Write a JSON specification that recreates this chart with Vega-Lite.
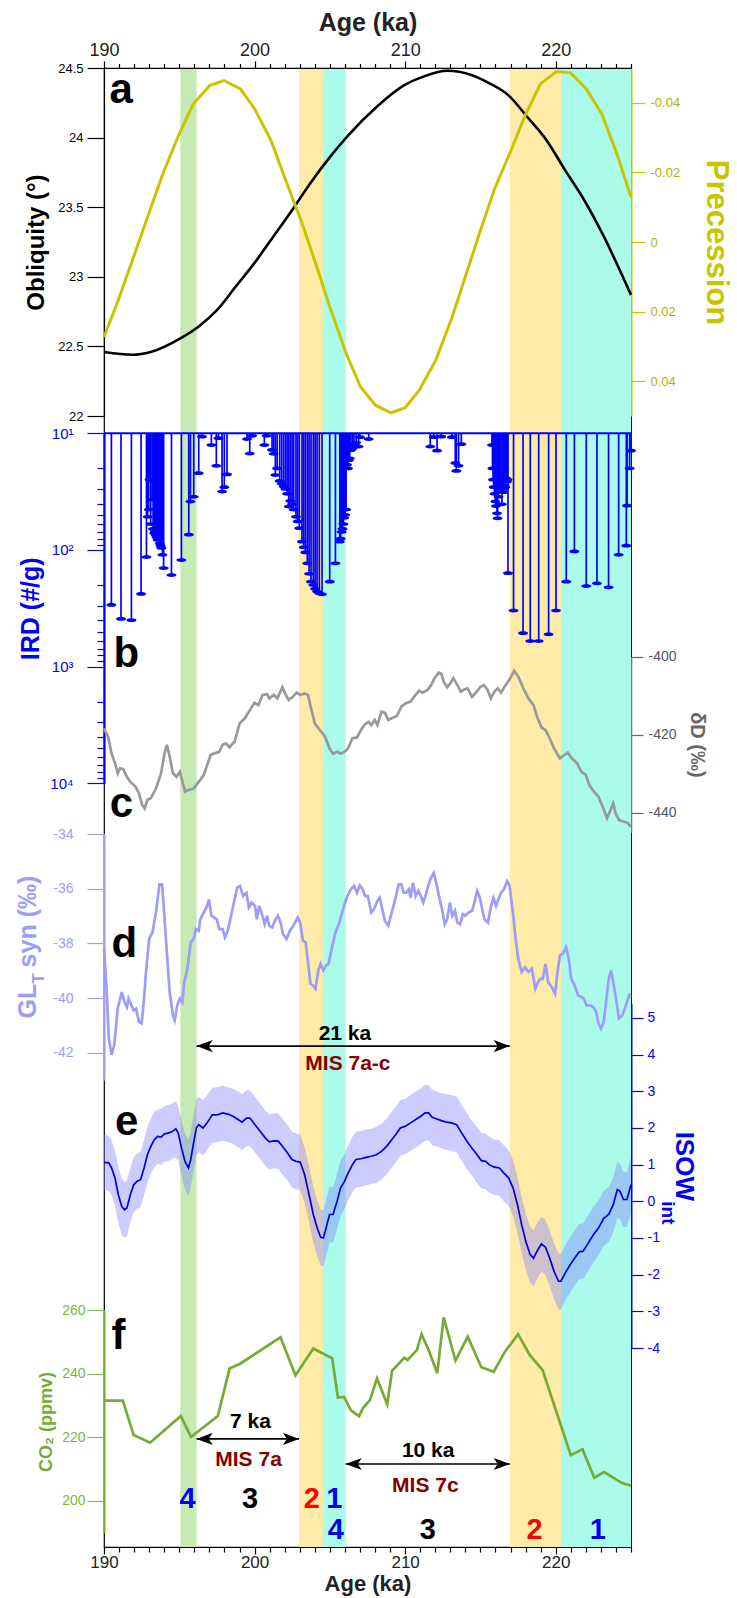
{
"$schema": "https://vega.github.io/schema/vega-lite/v6.json",
"width": 527, "height": 1479,
"autosize": "none",
"padding": {"left": 104, "top": 68, "right": 106, "bottom": 51},
"background": "white",
"config": {"view": {"stroke": "black", "strokeWidth": 1.2}, "font": "Liberation Sans",
  "axis": {"grid": false, "zindex": 1, "labelFont": "Liberation Sans", "titleFont": "Liberation Sans", "tickWidth": 1.2, "domainWidth": 1.2},
  "text": {"font": "Liberation Sans"}},
"datasets": {
  "bands": [{"s":195.07,"e":196.15,"k":"g"},{"s":202.95,"e":204.55,"k":"y"},{"s":204.55,"e":206.05,"k":"c"},{"s":216.95,"e":220.35,"k":"y"},{"s":220.35,"e":225,"k":"c"}],
  "dummy": [{"v":190}],
  "obl": [{"a":190,"v":22.46},{"a":191.9,"v":22.44},{"a":193.1,"v":22.46},{"a":195.1,"v":22.56},{"a":196.25,"v":22.64},{"a":197.5,"v":22.76},{"a":198.75,"v":22.93},{"a":200,"v":23.1},{"a":201.25,"v":23.29},{"a":202.5,"v":23.48},{"a":203.75,"v":23.68},{"a":205,"v":23.86},{"a":206.25,"v":24.02},{"a":208.1,"v":24.22},{"a":210,"v":24.38},{"a":211.25,"v":24.44},{"a":212.8,"v":24.48},{"a":214.4,"v":24.45},{"a":215.6,"v":24.39},{"a":216.9,"v":24.3},{"a":218.1,"v":24.15},{"a":219.4,"v":23.98},{"a":220.6,"v":23.77},{"a":221.9,"v":23.55},{"a":223.1,"v":23.31},{"a":225,"v":22.87}],
  "prec": [{"a":190,"v":0.0273},{"a":190.94,"v":0.0168},{"a":191.88,"v":0.0053},{"a":192.97,"v":-0.0081},{"a":193.91,"v":-0.0196},{"a":195,"v":-0.0311},{"a":195.94,"v":-0.0397},{"a":197.03,"v":-0.045},{"a":197.97,"v":-0.0464},{"a":199.06,"v":-0.044},{"a":200,"v":-0.0383},{"a":201.09,"v":-0.0292},{"a":202.03,"v":-0.0182},{"a":203.13,"v":-0.0057},{"a":204.06,"v":0.0062},{"a":205,"v":0.0187},{"a":206.09,"v":0.0321},{"a":207.03,"v":0.0416},{"a":208.03,"v":0.0469},{"a":209.06,"v":0.0491},{"a":210,"v":0.0476},{"a":210.94,"v":0.0426},{"a":212.03,"v":0.034},{"a":213.13,"v":0.0215},{"a":214.06,"v":0.0091},{"a":215,"v":-0.0033},{"a":215.94,"v":-0.0153},{"a":217.03,"v":-0.0263},{"a":217.97,"v":-0.0364},{"a":219,"v":-0.0455},{"a":220.06,"v":-0.049},{"a":221,"v":-0.0486},{"a":222.03,"v":-0.044},{"a":223.06,"v":-0.0368},{"a":224.06,"v":-0.0254},{"a":225,"v":-0.0129}],
  "ird0": [{"x1":190,"x2":225,"v":10}],
  "ird": [{"a":190.49,"v":296},{"a":191.13,"v":390},{"a":191.82,"v":400},{"a":192.46,"v":238},{"a":192.82,"v":115},{"a":192.9,"v":52},{"a":192.97,"v":45},{"a":193.03,"v":25},{"a":193.1,"v":60},{"a":193.19,"v":37},{"a":193.26,"v":66},{"a":193.33,"v":72},{"a":193.37,"v":70},{"a":193.44,"v":75},{"a":193.5,"v":78},{"a":193.57,"v":82},{"a":193.64,"v":79},{"a":193.7,"v":88},{"a":193.76,"v":92},{"a":193.81,"v":96},{"a":193.88,"v":110},{"a":193.96,"v":143},{"a":194.48,"v":164},{"a":195.14,"v":122},{"a":195.63,"v":74},{"a":195.74,"v":38.5},{"a":195.96,"v":35},{"a":196.29,"v":22},{"a":196.51,"v":10.7},{"a":197.13,"v":12.6},{"a":197.46,"v":19},{"a":197.6,"v":11},{"a":197.84,"v":31.6},{"a":197.99,"v":29},{"a":198.17,"v":22.5},{"a":199.5,"v":11.2},{"a":199.68,"v":14.9},{"a":199.83,"v":10.5},{"a":200.65,"v":12.6},{"a":200.8,"v":10.5},{"a":201.16,"v":13.9},{"a":201.27,"v":15},{"a":201.38,"v":22.8},{"a":201.5,"v":20},{"a":201.67,"v":25.6},{"a":201.8,"v":27},{"a":201.93,"v":28.6},{"a":202.05,"v":30},{"a":202.16,"v":33},{"a":202.27,"v":42.5},{"a":202.38,"v":38},{"a":202.49,"v":40.6},{"a":202.6,"v":45},{"a":202.75,"v":52},{"a":202.86,"v":57},{"a":202.97,"v":65},{"a":203.15,"v":85},{"a":203.26,"v":95},{"a":203.37,"v":105},{"a":203.5,"v":130},{"a":203.62,"v":160},{"a":203.75,"v":187},{"a":203.9,"v":200},{"a":204.02,"v":215},{"a":204.15,"v":227},{"a":204.3,"v":235},{"a":204.48,"v":240},{"a":204.99,"v":187},{"a":205.37,"v":130},{"a":205.66,"v":85},{"a":205.72,"v":80},{"a":205.78,"v":70},{"a":205.84,"v":66},{"a":205.9,"v":60},{"a":205.96,"v":53},{"a":206.02,"v":50},{"a":206.08,"v":45},{"a":206.14,"v":18.6},{"a":206.2,"v":20},{"a":206.26,"v":17},{"a":206.32,"v":16.4},{"a":206.4,"v":14},{"a":206.5,"v":13.5},{"a":206.6,"v":12.5},{"a":206.75,"v":12},{"a":206.91,"v":13},{"a":207,"v":10.8},{"a":207.58,"v":11.2},{"a":211.67,"v":13},{"a":211.9,"v":10.8},{"a":212.12,"v":14.1},{"a":212.4,"v":10.7},{"a":213.11,"v":10.8},{"a":213.33,"v":18},{"a":213.4,"v":21},{"a":213.55,"v":19},{"a":213.73,"v":12.4},{"a":215.77,"v":12.6},{"a":215.8,"v":20},{"a":215.84,"v":25},{"a":215.88,"v":29},{"a":215.93,"v":33},{"a":215.99,"v":38.5},{"a":216.03,"v":42},{"a":216.1,"v":48.5},{"a":216.14,"v":53.6},{"a":216.2,"v":35},{"a":216.25,"v":30},{"a":216.3,"v":28},{"a":216.36,"v":27},{"a":216.43,"v":40.6},{"a":216.5,"v":32},{"a":216.55,"v":30},{"a":216.6,"v":28},{"a":216.65,"v":29},{"a":216.7,"v":24.3},{"a":216.75,"v":26},{"a":216.8,"v":25},{"a":216.83,"v":158},{"a":217.2,"v":331},{"a":217.83,"v":517},{"a":218.31,"v":603},{"a":218.87,"v":603},{"a":219.53,"v":528},{"a":220.02,"v":331},{"a":220.7,"v":187},{"a":221.24,"v":103},{"a":222.03,"v":204},{"a":222.74,"v":193},{"a":223.51,"v":209},{"a":224.18,"v":110},{"a":224.69,"v":92},{"a":224.74,"v":41.7},{"a":224.91,"v":20},{"a":225,"v":14.1}],
  "dd": [{"a":190,"v":-418.4},{"a":190.27,"v":-420.5},{"a":190.5,"v":-424.8},{"a":190.73,"v":-427.3},{"a":190.91,"v":-429.9},{"a":191.07,"v":-428.6},{"a":191.29,"v":-428.9},{"a":191.52,"v":-430.8},{"a":191.75,"v":-432.1},{"a":192.09,"v":-433.3},{"a":192.32,"v":-435},{"a":192.54,"v":-438},{"a":192.7,"v":-438.9},{"a":192.88,"v":-436.7},{"a":193.11,"v":-436.3},{"a":193.45,"v":-433.8},{"a":193.79,"v":-429.9},{"a":194.02,"v":-424.8},{"a":194.18,"v":-422.6},{"a":194.36,"v":-425.6},{"a":194.58,"v":-429.9},{"a":194.81,"v":-430.8},{"a":195.04,"v":-429.5},{"a":195.38,"v":-434.6},{"a":195.61,"v":-434.2},{"a":195.95,"v":-433.8},{"a":196.29,"v":-432.1},{"a":196.63,"v":-430.3},{"a":197.08,"v":-425.2},{"a":197.31,"v":-424.8},{"a":197.65,"v":-424.4},{"a":197.88,"v":-422.6},{"a":198.1,"v":-422.2},{"a":198.33,"v":-423.2},{"a":198.67,"v":-421.8},{"a":199.01,"v":-417.1},{"a":199.35,"v":-415.8},{"a":199.69,"v":-413.7},{"a":199.99,"v":-411.8},{"a":200.26,"v":-412.4},{"a":200.53,"v":-409.8},{"a":200.83,"v":-409.6},{"a":200.98,"v":-410.7},{"a":201.28,"v":-409.8},{"a":201.51,"v":-410.7},{"a":201.85,"v":-407.8},{"a":202.03,"v":-409.4},{"a":202.26,"v":-411.1},{"a":202.53,"v":-410.3},{"a":202.8,"v":-409.2},{"a":203.03,"v":-409.8},{"a":203.32,"v":-409.4},{"a":203.55,"v":-409.8},{"a":203.78,"v":-413.7},{"a":204,"v":-417.1},{"a":204.34,"v":-418.8},{"a":204.68,"v":-420.5},{"a":204.98,"v":-423.5},{"a":205.21,"v":-424.9},{"a":205.48,"v":-424.4},{"a":205.71,"v":-424.8},{"a":205.98,"v":-424.4},{"a":206.21,"v":-423.5},{"a":206.5,"v":-420.9},{"a":206.8,"v":-420.7},{"a":207.07,"v":-418.8},{"a":207.29,"v":-417.5},{"a":207.57,"v":-416.7},{"a":207.75,"v":-417.5},{"a":207.98,"v":-416.2},{"a":208.16,"v":-417.5},{"a":208.43,"v":-414.1},{"a":208.66,"v":-414.4},{"a":208.88,"v":-416.2},{"a":209.11,"v":-415.8},{"a":209.45,"v":-415.2},{"a":209.75,"v":-412.8},{"a":210.02,"v":-412},{"a":210.36,"v":-411.5},{"a":210.59,"v":-410.3},{"a":210.93,"v":-408.7},{"a":211.15,"v":-409.2},{"a":211.49,"v":-408.5},{"a":211.72,"v":-407.3},{"a":211.95,"v":-405.5},{"a":212.24,"v":-404.1},{"a":212.4,"v":-404.3},{"a":212.56,"v":-406.4},{"a":212.79,"v":-407.8},{"a":213.01,"v":-406.8},{"a":213.2,"v":-405.5},{"a":213.47,"v":-407.3},{"a":213.7,"v":-409},{"a":213.92,"v":-408.4},{"a":214.15,"v":-408.1},{"a":214.44,"v":-410.3},{"a":214.74,"v":-409},{"a":215.01,"v":-407.7},{"a":215.24,"v":-407.3},{"a":215.47,"v":-408.5},{"a":215.69,"v":-410.7},{"a":215.92,"v":-409},{"a":216.15,"v":-408.1},{"a":216.37,"v":-409.2},{"a":216.6,"v":-407.7},{"a":216.94,"v":-405.8},{"a":217.24,"v":-403.6},{"a":217.51,"v":-405.1},{"a":217.85,"v":-408.1},{"a":218.19,"v":-410.7},{"a":218.53,"v":-412.4},{"a":218.76,"v":-415.4},{"a":219.05,"v":-418.1},{"a":219.32,"v":-418.8},{"a":219.6,"v":-420.9},{"a":219.89,"v":-423.5},{"a":220.28,"v":-426.1},{"a":220.57,"v":-425.2},{"a":220.8,"v":-424.6},{"a":221.09,"v":-426.1},{"a":221.41,"v":-427.3},{"a":221.71,"v":-429.5},{"a":222,"v":-430.3},{"a":222.23,"v":-432.9},{"a":222.5,"v":-434.4},{"a":222.84,"v":-435.9},{"a":223.07,"v":-438},{"a":223.41,"v":-441.4},{"a":223.64,"v":-439.3},{"a":223.82,"v":-437.6},{"a":223.98,"v":-440.2},{"a":224.21,"v":-441.9},{"a":224.54,"v":-442.3},{"a":224.77,"v":-442.6},{"a":225,"v":-443.6}],
  "gl": [{"a":190,"v":-38.21},{"a":190.16,"v":-39.54},{"a":190.32,"v":-41.48},{"a":190.5,"v":-42.08},{"a":190.68,"v":-41.72},{"a":190.91,"v":-40.39},{"a":191.18,"v":-39.78},{"a":191.36,"v":-40.15},{"a":191.52,"v":-40.33},{"a":191.63,"v":-40.02},{"a":191.82,"v":-40.27},{"a":191.97,"v":-40.45},{"a":192.13,"v":-40.39},{"a":192.32,"v":-40.87},{"a":192.5,"v":-40.93},{"a":192.66,"v":-40.02},{"a":192.77,"v":-39.18},{"a":193,"v":-37.84},{"a":193.22,"v":-37.6},{"a":193.45,"v":-36.87},{"a":193.68,"v":-35.84},{"a":193.86,"v":-35.84},{"a":194.13,"v":-37.96},{"a":194.36,"v":-39.78},{"a":194.58,"v":-40.63},{"a":194.7,"v":-40.81},{"a":194.86,"v":-40.27},{"a":195.04,"v":-40.02},{"a":195.2,"v":-40.15},{"a":195.33,"v":-39.42},{"a":195.54,"v":-38.93},{"a":195.76,"v":-37.96},{"a":195.95,"v":-37.84},{"a":196.1,"v":-37.48},{"a":196.29,"v":-37.54},{"a":196.4,"v":-37.12},{"a":196.63,"v":-36.87},{"a":196.85,"v":-36.63},{"a":196.97,"v":-36.39},{"a":197.13,"v":-36.99},{"a":197.31,"v":-37.05},{"a":197.49,"v":-37.12},{"a":197.65,"v":-37.48},{"a":197.88,"v":-37.48},{"a":198.03,"v":-37.78},{"a":198.22,"v":-37.54},{"a":198.44,"v":-36.99},{"a":198.67,"v":-36.39},{"a":198.85,"v":-35.96},{"a":199.03,"v":-35.9},{"a":199.24,"v":-36.27},{"a":199.46,"v":-36.15},{"a":199.62,"v":-36.69},{"a":199.8,"v":-36.51},{"a":200.03,"v":-36.63},{"a":200.15,"v":-37.12},{"a":200.3,"v":-36.63},{"a":200.49,"v":-36.93},{"a":200.67,"v":-37.3},{"a":200.83,"v":-36.99},{"a":200.98,"v":-37.36},{"a":201.17,"v":-37.42},{"a":201.39,"v":-37.12},{"a":201.55,"v":-36.99},{"a":201.73,"v":-37.24},{"a":201.89,"v":-37.66},{"a":202.12,"v":-37.84},{"a":202.35,"v":-37.54},{"a":202.57,"v":-37.36},{"a":202.87,"v":-37.05},{"a":203.03,"v":-37.24},{"a":203.21,"v":-37.9},{"a":203.39,"v":-37.96},{"a":203.55,"v":-38.69},{"a":203.71,"v":-39.48},{"a":203.89,"v":-39.54},{"a":204.05,"v":-39.66},{"a":204.23,"v":-38.99},{"a":204.39,"v":-38.75},{"a":204.57,"v":-38.99},{"a":204.75,"v":-38.81},{"a":204.91,"v":-38.75},{"a":205.14,"v":-38.15},{"a":205.37,"v":-37.6},{"a":205.59,"v":-37.3},{"a":205.82,"v":-36.87},{"a":205.98,"v":-36.57},{"a":206.16,"v":-36.27},{"a":206.39,"v":-36.02},{"a":206.61,"v":-35.9},{"a":206.8,"v":-36.15},{"a":206.99,"v":-35.88},{"a":207.18,"v":-36.02},{"a":207.34,"v":-36.27},{"a":207.52,"v":-36.27},{"a":207.75,"v":-36.87},{"a":207.93,"v":-36.75},{"a":208.16,"v":-36.45},{"a":208.32,"v":-36.33},{"a":208.48,"v":-36.75},{"a":208.66,"v":-37.18},{"a":208.88,"v":-37.36},{"a":209.11,"v":-36.87},{"a":209.34,"v":-36.39},{"a":209.57,"v":-35.84},{"a":209.75,"v":-35.84},{"a":209.91,"v":-36.15},{"a":210.07,"v":-36.15},{"a":210.25,"v":-36.02},{"a":210.36,"v":-36.33},{"a":210.52,"v":-35.78},{"a":210.7,"v":-36.27},{"a":210.88,"v":-36.08},{"a":211.04,"v":-36.27},{"a":211.2,"v":-36.51},{"a":211.38,"v":-36.21},{"a":211.56,"v":-35.84},{"a":211.72,"v":-35.6},{"a":211.9,"v":-35.42},{"a":212.06,"v":-35.78},{"a":212.29,"v":-36.39},{"a":212.45,"v":-36.75},{"a":212.63,"v":-37.3},{"a":212.79,"v":-37.12},{"a":212.97,"v":-36.51},{"a":213.13,"v":-37},{"a":213.31,"v":-36.81},{"a":213.47,"v":-37.24},{"a":213.65,"v":-37.3},{"a":213.83,"v":-36.93},{"a":213.99,"v":-36.99},{"a":214.22,"v":-36.87},{"a":214.44,"v":-36.81},{"a":214.63,"v":-36.45},{"a":214.78,"v":-36.08},{"a":214.96,"v":-36.33},{"a":215.12,"v":-36.75},{"a":215.27,"v":-37.12},{"a":215.5,"v":-37.24},{"a":215.68,"v":-36.69},{"a":215.86,"v":-36.33},{"a":216.04,"v":-36.63},{"a":216.19,"v":-36.39},{"a":216.37,"v":-36.15},{"a":216.56,"v":-36.02},{"a":216.78,"v":-35.72},{"a":216.94,"v":-35.9},{"a":217.17,"v":-36.93},{"a":217.35,"v":-37.9},{"a":217.51,"v":-38.57},{"a":217.74,"v":-39.05},{"a":217.96,"v":-38.87},{"a":218.19,"v":-39.05},{"a":218.42,"v":-38.93},{"a":218.64,"v":-39.66},{"a":218.82,"v":-39.42},{"a":218.98,"v":-39.3},{"a":219.14,"v":-39.3},{"a":219.32,"v":-38.75},{"a":219.5,"v":-39.42},{"a":219.73,"v":-39.6},{"a":219.96,"v":-39.84},{"a":220.12,"v":-39.05},{"a":220.28,"v":-38.45},{"a":220.46,"v":-38.39},{"a":220.69,"v":-38.15},{"a":220.87,"v":-38.57},{"a":221.03,"v":-39.3},{"a":221.26,"v":-39.54},{"a":221.48,"v":-39.9},{"a":221.71,"v":-39.96},{"a":221.87,"v":-40.02},{"a":222.05,"v":-40.27},{"a":222.28,"v":-40.27},{"a":222.5,"v":-40.33},{"a":222.69,"v":-40.51},{"a":222.84,"v":-40.93},{"a":223,"v":-41.12},{"a":223.19,"v":-40.87},{"a":223.37,"v":-40.02},{"a":223.52,"v":-39.3},{"a":223.68,"v":-38.99},{"a":223.86,"v":-39.54},{"a":224.04,"v":-40.15},{"a":224.2,"v":-40.75},{"a":224.43,"v":-40.63},{"a":224.66,"v":-40.27},{"a":224.88,"v":-39.9},{"a":225,"v":-39.96}],
  "isow": [{"a":190,"v":1.06,"lo":0.31,"hi":1.82},{"a":190.32,"v":1.05,"lo":0.28,"hi":1.78},{"a":190.5,"v":0.91,"lo":0.17,"hi":1.66},{"a":190.73,"v":0.64,"lo":-0.12,"hi":1.38},{"a":190.95,"v":0.18,"lo":-0.58,"hi":0.95},{"a":191.18,"v":-0.14,"lo":-0.92,"hi":0.62},{"a":191.36,"v":-0.23,"lo":-1,"hi":0.52},{"a":191.52,"v":-0.18,"lo":-0.95,"hi":0.58},{"a":191.75,"v":0.18,"lo":-0.58,"hi":0.9},{"a":191.97,"v":0.45,"lo":-0.3,"hi":1.2},{"a":192.2,"v":0.55,"lo":-0.2,"hi":1.3},{"a":192.43,"v":0.59,"lo":-0.16,"hi":1.36},{"a":192.66,"v":0.91,"lo":0.16,"hi":1.68},{"a":192.88,"v":1.27,"lo":0.5,"hi":2.02},{"a":193.11,"v":1.5,"lo":0.75,"hi":2.27},{"a":193.34,"v":1.68,"lo":0.92,"hi":2.45},{"a":193.56,"v":1.77,"lo":1.02,"hi":2.5},{"a":193.79,"v":1.75,"lo":1,"hi":2.52},{"a":194.02,"v":1.84,"lo":1.08,"hi":2.6},{"a":194.24,"v":1.86,"lo":1.1,"hi":2.62},{"a":194.47,"v":1.89,"lo":1.13,"hi":2.66},{"a":194.63,"v":1.93,"lo":1.18,"hi":2.7},{"a":194.77,"v":1.98,"lo":1.2,"hi":2.72},{"a":194.93,"v":1.86,"lo":1.1,"hi":2.6},{"a":195.15,"v":1.45,"lo":0.7,"hi":2.2},{"a":195.38,"v":1.09,"lo":0.33,"hi":1.85},{"a":195.61,"v":0.91,"lo":0.15,"hi":1.7},{"a":195.76,"v":1.14,"lo":0.38,"hi":1.9},{"a":195.95,"v":1.59,"lo":0.83,"hi":2.35},{"a":196.13,"v":2,"lo":1.25,"hi":2.78},{"a":196.29,"v":2.09,"lo":1.33,"hi":2.85},{"a":196.58,"v":2,"lo":1.25,"hi":2.77},{"a":196.85,"v":2.14,"lo":1.4,"hi":2.9},{"a":197.19,"v":2.36,"lo":1.6,"hi":3.1},{"a":197.54,"v":2.36,"lo":1.62,"hi":3.12},{"a":197.88,"v":2.41,"lo":1.65,"hi":3.15},{"a":198.22,"v":2.38,"lo":1.62,"hi":3.12},{"a":198.56,"v":2.32,"lo":1.57,"hi":3.07},{"a":198.9,"v":2.23,"lo":1.48,"hi":3},{"a":199.17,"v":2.16,"lo":1.4,"hi":2.92},{"a":199.46,"v":2.27,"lo":1.5,"hi":3.03},{"a":199.69,"v":2.27,"lo":1.5,"hi":3.02},{"a":200.03,"v":2.09,"lo":1.33,"hi":2.85},{"a":200.37,"v":1.91,"lo":1.15,"hi":2.66},{"a":200.71,"v":1.73,"lo":0.98,"hi":2.48},{"a":200.98,"v":1.62,"lo":0.86,"hi":2.37},{"a":201.28,"v":1.65,"lo":0.9,"hi":2.4},{"a":201.57,"v":1.64,"lo":0.88,"hi":2.4},{"a":201.85,"v":1.5,"lo":0.74,"hi":2.25},{"a":202.19,"v":1.32,"lo":0.56,"hi":2.08},{"a":202.48,"v":1.14,"lo":0.38,"hi":1.9},{"a":202.76,"v":1.09,"lo":0.33,"hi":1.85},{"a":203.03,"v":1.07,"lo":0.3,"hi":1.82},{"a":203.32,"v":0.73,"lo":-0.03,"hi":1.48},{"a":203.62,"v":0.18,"lo":-0.58,"hi":0.95},{"a":203.9,"v":-0.36,"lo":-1.12,"hi":0.4},{"a":204.16,"v":-0.73,"lo":-1.5,"hi":0.02},{"a":204.39,"v":-0.98,"lo":-1.75,"hi":-0.22},{"a":204.57,"v":-1,"lo":-1.77,"hi":-0.25},{"a":204.75,"v":-0.73,"lo":-1.5,"hi":0.03},{"a":204.98,"v":-0.36,"lo":-1.12,"hi":0.4},{"a":205.21,"v":-0.36,"lo":-1.12,"hi":0.38},{"a":205.48,"v":0,"lo":-0.76,"hi":0.75},{"a":205.71,"v":0.36,"lo":-0.4,"hi":1.12},{"a":205.98,"v":0.55,"lo":-0.2,"hi":1.3},{"a":206.21,"v":0.77,"lo":0.02,"hi":1.52},{"a":206.5,"v":1,"lo":0.25,"hi":1.76},{"a":206.73,"v":1.14,"lo":0.38,"hi":1.9},{"a":207.07,"v":1.16,"lo":0.4,"hi":1.92},{"a":207.41,"v":1.2,"lo":0.44,"hi":1.96},{"a":207.75,"v":1.23,"lo":0.47,"hi":1.98},{"a":208.09,"v":1.27,"lo":0.5,"hi":2.03},{"a":208.43,"v":1.36,"lo":0.6,"hi":2.12},{"a":208.77,"v":1.5,"lo":0.74,"hi":2.26},{"a":209.11,"v":1.68,"lo":0.92,"hi":2.44},{"a":209.38,"v":1.82,"lo":1.06,"hi":2.58},{"a":209.68,"v":2,"lo":1.24,"hi":2.76},{"a":210.02,"v":2.05,"lo":1.3,"hi":2.8},{"a":210.36,"v":2.14,"lo":1.38,"hi":2.9},{"a":210.7,"v":2.23,"lo":1.47,"hi":3},{"a":211.04,"v":2.32,"lo":1.56,"hi":3.08},{"a":211.33,"v":2.41,"lo":1.65,"hi":3.18},{"a":211.56,"v":2.41,"lo":1.66,"hi":3.16},{"a":211.79,"v":2.29,"lo":1.53,"hi":3.05},{"a":212.06,"v":2.25,"lo":1.5,"hi":3},{"a":212.4,"v":2.2,"lo":1.45,"hi":2.95},{"a":212.74,"v":2.16,"lo":1.4,"hi":2.92},{"a":213.08,"v":2.14,"lo":1.38,"hi":2.9},{"a":213.42,"v":2.09,"lo":1.33,"hi":2.85},{"a":213.76,"v":1.86,"lo":1.1,"hi":2.62},{"a":214.1,"v":1.64,"lo":0.88,"hi":2.4},{"a":214.44,"v":1.45,"lo":0.7,"hi":2.2},{"a":214.78,"v":1.27,"lo":0.5,"hi":2.03},{"a":215.06,"v":1.11,"lo":0.35,"hi":1.87},{"a":215.35,"v":1.09,"lo":0.33,"hi":1.85},{"a":215.58,"v":1,"lo":0.24,"hi":1.76},{"a":215.92,"v":0.93,"lo":0.17,"hi":1.68},{"a":216.26,"v":0.91,"lo":0.15,"hi":1.67},{"a":216.56,"v":0.77,"lo":0,"hi":1.53},{"a":216.87,"v":0.64,"lo":-0.12,"hi":1.4},{"a":217.17,"v":0.36,"lo":-0.4,"hi":1.12},{"a":217.46,"v":-0.09,"lo":-0.85,"hi":0.67},{"a":217.74,"v":-0.64,"lo":-1.4,"hi":0.12},{"a":218.01,"v":-1.09,"lo":-1.85,"hi":-0.33},{"a":218.3,"v":-1.45,"lo":-2.22,"hi":-0.7},{"a":218.53,"v":-1.55,"lo":-2.32,"hi":-0.8},{"a":218.76,"v":-1.36,"lo":-2.12,"hi":-0.6},{"a":219.05,"v":-1.16,"lo":-1.92,"hi":-0.42},{"a":219.32,"v":-1.25,"lo":-2,"hi":-0.5},{"a":219.6,"v":-1.55,"lo":-2.3,"hi":-0.8},{"a":219.89,"v":-1.91,"lo":-2.67,"hi":-1.15},{"a":220.19,"v":-2.18,"lo":-2.95,"hi":-1.42},{"a":220.35,"v":-2.18,"lo":-2.95,"hi":-1.43},{"a":220.64,"v":-1.95,"lo":-2.7,"hi":-1.2},{"a":220.96,"v":-1.73,"lo":-2.48,"hi":-0.97},{"a":221.25,"v":-1.55,"lo":-2.3,"hi":-0.8},{"a":221.55,"v":-1.38,"lo":-2.13,"hi":-0.62},{"a":221.82,"v":-1.36,"lo":-2.12,"hi":-0.6},{"a":222.16,"v":-1.14,"lo":-1.9,"hi":-0.38},{"a":222.5,"v":-0.91,"lo":-1.67,"hi":-0.15},{"a":222.84,"v":-0.73,"lo":-1.48,"hi":0.02},{"a":223.18,"v":-0.47,"lo":-1.22,"hi":0.28},{"a":223.53,"v":-0.35,"lo":-1.1,"hi":0.4},{"a":223.82,"v":-0.09,"lo":-0.85,"hi":0.66},{"a":224.09,"v":0.32,"lo":-0.45,"hi":1.08},{"a":224.27,"v":0.27,"lo":-0.48,"hi":1.02},{"a":224.5,"v":0.05,"lo":-0.7,"hi":0.8},{"a":224.73,"v":0.05,"lo":-0.7,"hi":0.8},{"a":225,"v":0.45,"lo":-0.3,"hi":1.2}],
  "co2": [{"a":190,"v":231.5},{"a":191.25,"v":231.5},{"a":191.97,"v":220.7},{"a":193.06,"v":218.3},{"a":195.1,"v":226.7},{"a":195.78,"v":220.1},{"a":197.56,"v":226.7},{"a":198.34,"v":241.6},{"a":199.06,"v":243.2},{"a":201.72,"v":251.4},{"a":202.72,"v":239.5},{"a":203.9,"v":247.9},{"a":205.16,"v":244.8},{"a":205.53,"v":232.5},{"a":205.94,"v":232.7},{"a":206.4,"v":228.5},{"a":206.94,"v":226.6},{"a":207.19,"v":229.1},{"a":207.66,"v":231.7},{"a":208.13,"v":238.5},{"a":208.81,"v":230.4},{"a":209.13,"v":240.9},{"a":209.94,"v":245},{"a":210.16,"v":244.3},{"a":210.78,"v":247.4},{"a":211.09,"v":252.4},{"a":211.56,"v":247.4},{"a":212.13,"v":240.1},{"a":212.56,"v":257.7},{"a":213.34,"v":244.1},{"a":214.16,"v":251.6},{"a":215.06,"v":242},{"a":215.88,"v":240.6},{"a":216.63,"v":246.9},{"a":217.5,"v":252.4},{"a":218.28,"v":245.8},{"a":219.13,"v":241.1},{"a":221,"v":214.4},{"a":221.78,"v":216.2},{"a":222.56,"v":207.3},{"a":223.22,"v":209.1},{"a":224.38,"v":205.7},{"a":225,"v":204.8}],
  "labA": [{"t":"a","x":191.14,"y":24.25}],
  "labB": [{"t":"b","x":191.49,"y":1000}],
  "labC": [{"t":"c","x":191.16,"y":-441}],
  "labD": [{"t":"d","x":191.35,"y":-38.51}],
  "labE": [{"t":"e","x":191.5,"y":1.82}],
  "labF": [{"t":"f","x":190.97,"y":247.7}],
  "glTitle": [{"t":"GL","x":184.98,"y":-40.75},{"t":"syn (‰)","x":184.98,"y":-38.88}],
  "glSub": [{"t":"T","x":185.68,"y":-39.48}],
  "isoTitle": [{"t":"ISOW","x":228.5,"y":1.9}],
  "isoSub": [{"t":"int","x":227.45,"y":0.0}],
  "arrGL": [{"x1":196.15,"x2":216.95,"y":-41.76}],
  "kaGL": [{"t":"21 ka","x":206.0,"y":-41.55}],
  "misGL": [{"t":"MIS 7a-c","x":206.2,"y":-42.63}],
  "arrCO2": [{"x1":196.15,"x2":202.95,"y":219.5},{"x1":206.05,"x2":216.95,"y":211.6}],
  "kaCO2": [{"t":"7 ka","x":199.73,"y":222.9},{"t":"10 ka","x":211.53,"y":213.9}],
  "misCO2": [{"t":"MIS 7a","x":199.6,"y":211.0},{"t":"MIS 7c","x":211.34,"y":202.9}],
  "nums": [{"t":"4","x":195.55,"y":197.7,"k":"b"},{"t":"3","x":199.7,"y":197.7,"k":"k"},{"t":"2","x":203.8,"y":197.7,"k":"r"},{"t":"1","x":205.3,"y":197.7,"k":"b"},{"t":"4","x":205.4,"y":188.0,"k":"b"},{"t":"3","x":211.5,"y":188.0,"k":"k"},{"t":"2","x":218.6,"y":188.0,"k":"r"},{"t":"1","x":222.8,"y":188.0,"k":"b"}]
},
"resolve": {"scale": {"y": "independent", "color": "independent"}, "axis": {"x": "independent", "y": "independent"}},
"layer": [
  {"data": {"name": "bands"}, "mark": {"type": "rect"},
   "encoding": {"x": {"field": "s", "type": "quantitative", "scale": {"domain": [190, 225], "nice": false, "zero": false}, "axis": null},
                "x2": {"field": "e"},
                "color": {"field": "k", "type": "nominal", "scale": {"domain": ["g", "y", "c"], "range": ["#c7e9b4", "#feeba8", "#aafbea"]}, "legend": null}}},
  {"resolve": {"axis": {"y": "independent"}}, "layer": [
    {"data": {"name": "obl"}, "mark": {"type": "line", "color": "black", "strokeWidth": 2.6, "interpolate": "monotone"},
     "encoding": {"x": {"field": "a", "type": "quantitative", "scale": {"domain": [190, 225], "nice": false, "zero": false}, "axis": null},
                  "y": {"field": "v", "type": "quantitative", "scale": {"domain": [22, 24.5], "range": [348, 0], "nice": false, "zero": false},
                        "axis": {"orient": "left", "values": [22, 22.5, 23, 23.5, 24, 24.5], "labelExpr": "toString(datum.value)", "labelFontSize": 13, "labelColor": "black", "tickColor": "black", "tickSize": 17, "labelPadding": 4, "domainColor": "black", "title": "Obliquity (°)", "titleFontSize": 24, "titleFontWeight": "bold", "titleColor": "black", "titlePadding": 9}}}},
    {"data": {"name": "labA"}, "mark": {"type": "text", "fontSize": 42, "fontWeight": "bold", "align": "center", "baseline": "alphabetic", "color": "black"},
     "encoding": {"x": {"field": "x", "type": "quantitative", "scale": {"domain": [190, 225], "nice": false, "zero": false}, "axis": null},
                  "y": {"field": "y", "type": "quantitative", "scale": {"domain": [22, 24.5], "range": [348, 0], "nice": false, "zero": false}, "axis": null},
                  "text": {"field": "t"}}}
  ]},
  {"data": {"name": "prec"}, "mark": {"type": "line", "color": "#c8c400", "strokeWidth": 3},
   "encoding": {"x": {"field": "a", "type": "quantitative", "scale": {"domain": [190, 225], "nice": false, "zero": false}, "axis": null},
                "y": {"field": "v", "type": "quantitative", "scale": {"domain": [-0.05, 0.05], "range": [0, 348], "nice": false, "zero": false},
                      "axis": {"orient": "right", "values": [-0.04, -0.02, 0, 0.02, 0.04], "labelExpr": "toString(datum.value)", "labelColor": "#b4b000", "labelFontSize": 13, "tickColor": "#c8c400", "domainColor": "#c8c400", "domainWidth": 2, "tickSize": 14, "labelPadding": 5, "title": "Precession", "titleColor": "#c8c400", "titleFontSize": 31, "titleFontWeight": "bold", "titlePadding": 20}}}},
  {"resolve": {"axis": {"y": "independent"}}, "layer": [
    {"data": {"name": "ird0"}, "mark": {"type": "rule", "color": "#0000ff", "strokeWidth": 2},
     "encoding": {"x": {"field": "x1", "type": "quantitative", "scale": {"domain": [190, 225], "nice": false, "zero": false}, "axis": null},
                  "x2": {"field": "x2"},
                  "y": {"field": "v", "type": "quantitative", "scale": {"type": "log", "domain": [10, 10000], "range": [365.3, 715.3], "nice": false},
                        "axis": {"orient": "left", "values": [10, 100, 1000, 10000], "labelExpr": "datum.value == 10 ? '10¹' : datum.value == 100 ? '10²' : datum.value == 1000 ? '10³' : '10⁴'", "labelColor": "#0000ff", "labelFontSize": 15, "tickColor": "#0000ff", "tickSize": 17, "domainColor": "#0000ff", "domainWidth": 2.2, "labelPadding": 14, "title": "IRD (#/g)", "titleColor": "#0000ff", "titleFontSize": 25, "titleFontWeight": "bold", "titlePadding": 6}}}},
    {"data": {"name": "ird"}, "mark": {"type": "rule", "color": "#0000ff", "strokeWidth": 1.7},
     "encoding": {"x": {"field": "a", "type": "quantitative", "scale": {"domain": [190, 225], "nice": false, "zero": false}, "axis": null},
                  "y": {"field": "v", "type": "quantitative", "scale": {"type": "log", "domain": [10, 10000], "range": [365.3, 715.3], "nice": false},
                        "axis": {"orient": "left", "values": [20, 30, 40, 50, 60, 70, 80, 90, 200, 300, 400, 500, 600, 700, 800, 900, 2000, 3000, 4000, 5000, 6000, 7000, 8000, 9000], "labels": false, "tickColor": "#0000ff", "tickSize": 7, "domain": false, "title": null}},
                  "y2": {"datum": 10}}},
    {"data": {"name": "ird"}, "mark": {"type": "point", "filled": true, "color": "#0000ff", "opacity": 1, "size": 100, "shape": "M-1,0C-1,-0.5 1,-0.5 1,0C1,0.5 -1,0.5 -1,0Z"},
     "encoding": {"x": {"field": "a", "type": "quantitative", "scale": {"domain": [190, 225], "nice": false, "zero": false}, "axis": null},
                  "y": {"field": "v", "type": "quantitative", "scale": {"type": "log", "domain": [10, 10000], "range": [365.3, 715.3], "nice": false}, "axis": null}}},
    {"data": {"name": "labB"}, "mark": {"type": "text", "fontSize": 42, "fontWeight": "bold", "align": "center", "baseline": "alphabetic", "color": "black"},
     "encoding": {"x": {"field": "x", "type": "quantitative", "scale": {"domain": [190, 225], "nice": false, "zero": false}, "axis": null},
                  "y": {"field": "y", "type": "quantitative", "scale": {"type": "log", "domain": [10, 10000], "range": [365.3, 715.3], "nice": false}, "axis": null},
                  "text": {"field": "t"}}}
  ]},
  {"resolve": {"axis": {"y": "independent"}}, "layer": [
    {"data": {"name": "dd"}, "mark": {"type": "line", "color": "#999999", "strokeWidth": 2.7},
     "encoding": {"x": {"field": "a", "type": "quantitative", "scale": {"domain": [190, 225], "nice": false, "zero": false}, "axis": null},
                  "y": {"field": "v", "type": "quantitative", "scale": {"domain": [-445, -400], "range": [764.2, 588.7], "nice": false, "zero": false},
                        "axis": {"orient": "right", "values": [-440, -420, -400], "labelExpr": "toString(datum.value)", "labelColor": "#555555", "labelFontSize": 14, "tickColor": "#666666", "tickSize": 12, "domainColor": "#777777", "domainWidth": 1.6, "labelPadding": 5, "title": "δD (‰)", "titleColor": "#666666", "titleFontSize": 20, "titleFontWeight": "bold", "titlePadding": 10}}}},
    {"data": {"name": "labC"}, "mark": {"type": "text", "fontSize": 42, "fontWeight": "bold", "align": "center", "baseline": "alphabetic", "color": "black"},
     "encoding": {"x": {"field": "x", "type": "quantitative", "scale": {"domain": [190, 225], "nice": false, "zero": false}, "axis": null},
                  "y": {"field": "y", "type": "quantitative", "scale": {"domain": [-445, -400], "range": [764.2, 588.7], "nice": false, "zero": false}, "axis": null},
                  "text": {"field": "t"}}}
  ]},
  {"resolve": {"axis": {"y": "independent"}}, "layer": [
    {"data": {"name": "gl"}, "mark": {"type": "line", "color": "#9d9df7", "strokeWidth": 2.7},
     "encoding": {"x": {"field": "a", "type": "quantitative", "scale": {"domain": [190, 225], "nice": false, "zero": false}, "axis": null},
                  "y": {"field": "v", "type": "quantitative", "scale": {"domain": [-43, -34], "range": [1012, 766], "nice": false, "zero": false},
                        "axis": {"orient": "left", "values": [-42, -40, -38, -36, -34], "labelExpr": "toString(datum.value)", "labelColor": "#9d9df7", "labelFontSize": 14, "tickColor": "#9d9df7", "tickSize": 17, "domainColor": "#9d9df7", "domainWidth": 2, "labelPadding": 14, "title": null}}}},
    {"data": {"name": "labD"}, "mark": {"type": "text", "fontSize": 42, "fontWeight": "bold", "align": "center", "baseline": "alphabetic", "color": "black"},
     "encoding": {"x": {"field": "x", "type": "quantitative", "scale": {"domain": [190, 225], "nice": false, "zero": false}, "axis": null},
                  "y": {"field": "y", "type": "quantitative", "scale": {"domain": [-43, -34], "range": [1012, 766], "nice": false, "zero": false}, "axis": null},
                  "text": {"field": "t"}}},
    {"data": {"name": "glTitle"}, "mark": {"type": "text", "fontSize": 25, "fontWeight": "bold", "align": "left", "baseline": "middle", "angle": 270, "color": "#9d9df7"},
     "encoding": {"x": {"field": "x", "type": "quantitative", "scale": {"domain": [190, 225], "nice": false, "zero": false}, "axis": null},
                  "y": {"field": "y", "type": "quantitative", "scale": {"domain": [-43, -34], "range": [1012, 766], "nice": false, "zero": false}, "axis": null},
                  "text": {"field": "t"}}},
    {"data": {"name": "glSub"}, "mark": {"type": "text", "fontSize": 17, "fontWeight": "bold", "align": "left", "baseline": "middle", "angle": 270, "color": "#9d9df7"},
     "encoding": {"x": {"field": "x", "type": "quantitative", "scale": {"domain": [190, 225], "nice": false, "zero": false}, "axis": null},
                  "y": {"field": "y", "type": "quantitative", "scale": {"domain": [-43, -34], "range": [1012, 766], "nice": false, "zero": false}, "axis": null},
                  "text": {"field": "t"}}},
    {"data": {"name": "arrGL"}, "mark": {"type": "rule", "color": "black", "strokeWidth": 1.6},
     "encoding": {"x": {"field": "x1", "type": "quantitative", "scale": {"domain": [190, 225], "nice": false, "zero": false}, "axis": null},
                  "x2": {"field": "x2"},
                  "y": {"field": "y", "type": "quantitative", "scale": {"domain": [-43, -34], "range": [1012, 766], "nice": false, "zero": false}, "axis": null}}},
    {"data": {"name": "arrGL"}, "mark": {"type": "point", "filled": true, "opacity": 1, "color": "black", "size": 180, "shape": "M0,0L2.4,-0.9L1.8,0L2.4,0.9Z"},
     "encoding": {"x": {"field": "x1", "type": "quantitative", "scale": {"domain": [190, 225], "nice": false, "zero": false}, "axis": null},
                  "y": {"field": "y", "type": "quantitative", "scale": {"domain": [-43, -34], "range": [1012, 766], "nice": false, "zero": false}, "axis": null}}},
    {"data": {"name": "arrGL"}, "mark": {"type": "point", "filled": true, "opacity": 1, "color": "black", "size": 180, "shape": "M0,0L-2.4,-0.9L-1.8,0L-2.4,0.9Z"},
     "encoding": {"x": {"field": "x2", "type": "quantitative", "scale": {"domain": [190, 225], "nice": false, "zero": false}, "axis": null},
                  "y": {"field": "y", "type": "quantitative", "scale": {"domain": [-43, -34], "range": [1012, 766], "nice": false, "zero": false}, "axis": null}}},
    {"data": {"name": "kaGL"}, "mark": {"type": "text", "fontSize": 21, "fontWeight": "bold", "align": "center", "baseline": "alphabetic", "color": "black"},
     "encoding": {"x": {"field": "x", "type": "quantitative", "scale": {"domain": [190, 225], "nice": false, "zero": false}, "axis": null},
                  "y": {"field": "y", "type": "quantitative", "scale": {"domain": [-43, -34], "range": [1012, 766], "nice": false, "zero": false}, "axis": null},
                  "text": {"field": "t"}}},
    {"data": {"name": "misGL"}, "mark": {"type": "text", "fontSize": 21, "fontWeight": "bold", "align": "center", "baseline": "alphabetic", "color": "#870000"},
     "encoding": {"x": {"field": "x", "type": "quantitative", "scale": {"domain": [190, 225], "nice": false, "zero": false}, "axis": null},
                  "y": {"field": "y", "type": "quantitative", "scale": {"domain": [-43, -34], "range": [1012, 766], "nice": false, "zero": false}, "axis": null},
                  "text": {"field": "t"}}}
  ]},
  {"resolve": {"axis": {"y": "independent"}}, "layer": [
    {"data": {"name": "isow"}, "mark": {"type": "area", "color": "#8080ff", "opacity": 0.4},
     "encoding": {"x": {"field": "a", "type": "quantitative", "scale": {"domain": [190, 225], "nice": false, "zero": false}, "axis": null},
                  "y": {"field": "lo", "type": "quantitative", "scale": {"domain": [-4, 5.4], "range": [1280, 935.3], "nice": false, "zero": false},
                        "axis": {"orient": "right", "values": [-4, -3, -2, -1, 0, 1, 2, 3, 4, 5], "labelExpr": "toString(datum.value)", "labelColor": "#0000ff", "labelFontSize": 14, "tickColor": "#0000ff", "tickSize": 12, "domainColor": "#0000ff", "domainWidth": 2, "labelPadding": 4, "title": null}},
                  "y2": {"field": "hi"}}},
    {"data": {"name": "isow"}, "mark": {"type": "line", "color": "#0000e0", "strokeWidth": 1.7},
     "encoding": {"x": {"field": "a", "type": "quantitative", "scale": {"domain": [190, 225], "nice": false, "zero": false}, "axis": null},
                  "y": {"field": "v", "type": "quantitative", "scale": {"domain": [-4, 5.4], "range": [1280, 935.3], "nice": false, "zero": false}, "axis": null}}},
    {"data": {"name": "labE"}, "mark": {"type": "text", "fontSize": 42, "fontWeight": "bold", "align": "center", "baseline": "alphabetic", "color": "black"},
     "encoding": {"x": {"field": "x", "type": "quantitative", "scale": {"domain": [190, 225], "nice": false, "zero": false}, "axis": null},
                  "y": {"field": "y", "type": "quantitative", "scale": {"domain": [-4, 5.4], "range": [1280, 935.3], "nice": false, "zero": false}, "axis": null},
                  "text": {"field": "t"}}},
    {"data": {"name": "isoTitle"}, "mark": {"type": "text", "fontSize": 26, "fontWeight": "bold", "align": "left", "baseline": "middle", "angle": 90, "color": "#0000ff"},
     "encoding": {"x": {"field": "x", "type": "quantitative", "scale": {"domain": [190, 225], "nice": false, "zero": false}, "axis": null},
                  "y": {"field": "y", "type": "quantitative", "scale": {"domain": [-4, 5.4], "range": [1280, 935.3], "nice": false, "zero": false}, "axis": null},
                  "text": {"field": "t"}}},
    {"data": {"name": "isoSub"}, "mark": {"type": "text", "fontSize": 19, "fontWeight": "bold", "align": "left", "baseline": "middle", "angle": 90, "color": "#0000ff"},
     "encoding": {"x": {"field": "x", "type": "quantitative", "scale": {"domain": [190, 225], "nice": false, "zero": false}, "axis": null},
                  "y": {"field": "y", "type": "quantitative", "scale": {"domain": [-4, 5.4], "range": [1280, 935.3], "nice": false, "zero": false}, "axis": null},
                  "text": {"field": "t"}}}
  ]},
  {"resolve": {"axis": {"y": "independent"}}, "layer": [
    {"data": {"name": "co2"}, "mark": {"type": "line", "color": "#77aa33", "strokeWidth": 2.7},
     "encoding": {"x": {"field": "a", "type": "quantitative", "scale": {"domain": [190, 225], "nice": false, "zero": false}, "axis": null},
                  "y": {"field": "v", "type": "quantitative", "scale": {"domain": [190, 260], "range": [1464.8, 1242], "nice": false, "zero": false},
                        "axis": {"orient": "left", "values": [200, 220, 240, 260], "labelExpr": "toString(datum.value)", "labelColor": "#7ab648", "labelFontSize": 14, "tickColor": "#8ab868", "tickSize": 17, "domainColor": "#77aa33", "domainWidth": 2, "labelPadding": 2, "title": "CO₂ (ppmv)", "titleColor": "#77aa33", "titleFontSize": 18, "titleFontWeight": "bold", "titlePadding": 6}}}},
    {"data": {"name": "labF"}, "mark": {"type": "text", "fontSize": 42, "fontWeight": "bold", "align": "center", "baseline": "alphabetic", "color": "black"},
     "encoding": {"x": {"field": "x", "type": "quantitative", "scale": {"domain": [190, 225], "nice": false, "zero": false}, "axis": null},
                  "y": {"field": "y", "type": "quantitative", "scale": {"domain": [190, 260], "range": [1464.8, 1242], "nice": false, "zero": false}, "axis": null},
                  "text": {"field": "t"}}},
    {"data": {"name": "arrCO2"}, "mark": {"type": "rule", "color": "black", "strokeWidth": 1.6},
     "encoding": {"x": {"field": "x1", "type": "quantitative", "scale": {"domain": [190, 225], "nice": false, "zero": false}, "axis": null},
                  "x2": {"field": "x2"},
                  "y": {"field": "y", "type": "quantitative", "scale": {"domain": [190, 260], "range": [1464.8, 1242], "nice": false, "zero": false}, "axis": null}}},
    {"data": {"name": "arrCO2"}, "mark": {"type": "point", "filled": true, "opacity": 1, "color": "black", "size": 180, "shape": "M0,0L2.4,-0.9L1.8,0L2.4,0.9Z"},
     "encoding": {"x": {"field": "x1", "type": "quantitative", "scale": {"domain": [190, 225], "nice": false, "zero": false}, "axis": null},
                  "y": {"field": "y", "type": "quantitative", "scale": {"domain": [190, 260], "range": [1464.8, 1242], "nice": false, "zero": false}, "axis": null}}},
    {"data": {"name": "arrCO2"}, "mark": {"type": "point", "filled": true, "opacity": 1, "color": "black", "size": 180, "shape": "M0,0L-2.4,-0.9L-1.8,0L-2.4,0.9Z"},
     "encoding": {"x": {"field": "x2", "type": "quantitative", "scale": {"domain": [190, 225], "nice": false, "zero": false}, "axis": null},
                  "y": {"field": "y", "type": "quantitative", "scale": {"domain": [190, 260], "range": [1464.8, 1242], "nice": false, "zero": false}, "axis": null}}},
    {"data": {"name": "kaCO2"}, "mark": {"type": "text", "fontSize": 21, "fontWeight": "bold", "align": "center", "baseline": "alphabetic", "color": "black"},
     "encoding": {"x": {"field": "x", "type": "quantitative", "scale": {"domain": [190, 225], "nice": false, "zero": false}, "axis": null},
                  "y": {"field": "y", "type": "quantitative", "scale": {"domain": [190, 260], "range": [1464.8, 1242], "nice": false, "zero": false}, "axis": null},
                  "text": {"field": "t"}}},
    {"data": {"name": "misCO2"}, "mark": {"type": "text", "fontSize": 21, "fontWeight": "bold", "align": "center", "baseline": "alphabetic", "color": "#870000"},
     "encoding": {"x": {"field": "x", "type": "quantitative", "scale": {"domain": [190, 225], "nice": false, "zero": false}, "axis": null},
                  "y": {"field": "y", "type": "quantitative", "scale": {"domain": [190, 260], "range": [1464.8, 1242], "nice": false, "zero": false}, "axis": null},
                  "text": {"field": "t"}}},
    {"data": {"name": "nums"}, "mark": {"type": "text", "fontSize": 29, "fontWeight": "bold", "align": "center", "baseline": "alphabetic"},
     "encoding": {"x": {"field": "x", "type": "quantitative", "scale": {"domain": [190, 225], "nice": false, "zero": false}, "axis": null},
                  "y": {"field": "y", "type": "quantitative", "scale": {"domain": [190, 260], "range": [1464.8, 1242], "nice": false, "zero": false}, "axis": null},
                  "color": {"field": "k", "type": "nominal", "scale": {"domain": ["b", "k", "r"], "range": ["#0000ee", "#000000", "#ff0000"]}, "legend": null},
                  "text": {"field": "t"}}}
  ]},
  {"data": {"name": "dummy"}, "mark": {"type": "point", "opacity": 0},
   "encoding": {"x": {"field": "v", "type": "quantitative", "scale": {"domain": [190, 225], "nice": false, "zero": false},
                      "axis": {"orient": "top", "values": [190, 200, 210, 220], "format": "d", "labelFlush": false, "labelFontSize": 18, "labelColor": "#222222", "tickColor": "black", "tickSize": 7, "domainColor": "black", "labelPadding": 2, "title": "Age (ka)", "titleFontSize": 25, "titleFontWeight": "bold", "titleColor": "#222222", "titlePadding": 6, "zindex": 2}}}},
  {"data": {"name": "dummy"}, "mark": {"type": "point", "opacity": 0},
   "encoding": {"x": {"field": "v", "type": "quantitative", "scale": {"domain": [190, 225], "nice": false, "zero": false},
                      "axis": {"orient": "top", "values": [191,192,193,194,195,196,197,198,199,201,202,203,204,205,206,207,208,209,211,212,213,214,215,216,217,218,219,221,222,223,224,225], "labels": false, "tickColor": "black", "tickSize": 4.5, "domain": false, "title": null, "zindex": 2}}}},
  {"data": {"name": "dummy"}, "mark": {"type": "point", "opacity": 0},
   "encoding": {"x": {"field": "v", "type": "quantitative", "scale": {"domain": [190, 225], "nice": false, "zero": false},
                      "axis": {"orient": "bottom", "values": [190, 200, 210, 220], "format": "d", "labelFlush": false, "labelFontSize": 17, "labelColor": "#222222", "tickColor": "black", "tickSize": 7, "domainColor": "black", "labelPadding": 0, "title": "Age (ka)", "titleFontSize": 22, "titleFontWeight": "bold", "titleColor": "#222222", "titlePadding": 3, "zindex": 2}}}},
  {"data": {"name": "dummy"}, "mark": {"type": "point", "opacity": 0},
   "encoding": {"x": {"field": "v", "type": "quantitative", "scale": {"domain": [190, 225], "nice": false, "zero": false},
                      "axis": {"orient": "bottom", "values": [191,192,193,194,195,196,197,198,199,201,202,203,204,205,206,207,208,209,211,212,213,214,215,216,217,218,219,221,222,223,224,225], "labels": false, "tickColor": "black", "tickSize": 5, "domain": false, "title": null, "zindex": 2}}}}
]
}
